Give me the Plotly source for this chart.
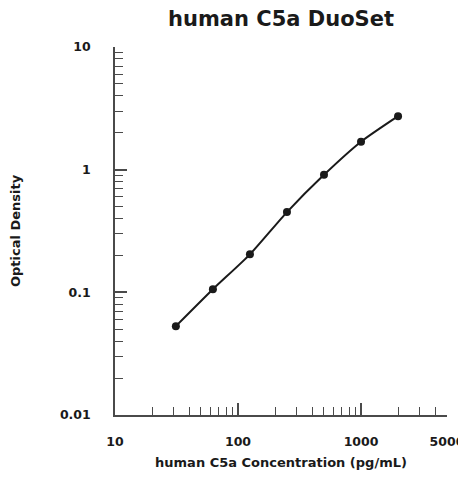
import plotly.graph_objects as go

concentration = [31.25, 62.5, 125, 250, 500, 1000, 2000]
optical_density = [0.053, 0.106, 0.204, 0.451, 0.908, 1.69, 2.73]

x_tick_vals = [10, 100, 1000, 5000]
x_tick_text = ["10", "100", "1000", "5000"]
y_tick_vals = [0.01, 0.1, 1, 10]
y_tick_text = ["0.01", "0.1", "1", "10"]

FONT = "DejaVu Sans, Liberation Sans, sans-serif"
AX = "#4a4a4a"
TXT = "#1a1a1a"

fig = go.Figure()
fig.add_trace(go.Scatter(
    x=concentration, y=optical_density, mode="lines+markers",
    line=dict(color=TXT, width=2, shape="spline", smoothing=0.6),
    marker=dict(color=TXT, size=8),
    showlegend=False,
))

# page body has an 8px default margin, so the figure is sized to fit the window
fig.update_layout(
    width=458, height=462,
    margin=dict(l=107, r=19, t=39, b=55, autoexpand=False),
    paper_bgcolor="white", plot_bgcolor="white",
    title=dict(text="<b>human C5a DuoSet</b>", x=0.5, xref="paper", xanchor="center",
               y=0.977, yref="container", yanchor="middle",
               font=dict(family=FONT, size=21, color=TXT)),
    font=dict(family=FONT, color=TXT),
)

fig.update_xaxes(
    type="log", range=[1, 3.69898], showgrid=False, zeroline=False, automargin=False,
    showline=True, linecolor=AX, linewidth=1.5,
    tickmode="array", tickvals=x_tick_vals, ticktext=x_tick_text,
    ticks="inside", ticklen=12, tickwidth=1.5, tickcolor=AX,
    tickfont=dict(family=FONT, size=12.5, color=TXT, weight="bold"),
    ticklabelstandoff=14, ticklabeloverflow="allow",
    minor=dict(ticks="inside", ticklen=8, tickwidth=1.2, tickcolor=AX, dtick="D1", showgrid=False),
    title=dict(text="<b>human C5a Concentration (pg/mL)</b>", standoff=14,
               font=dict(family=FONT, size=13, color=TXT)),
)
fig.update_yaxes(
    type="log", range=[-2, 1], showgrid=False, zeroline=False, automargin=False,
    showline=True, linecolor=AX, linewidth=1.5,
    tickmode="array", tickvals=y_tick_vals, ticktext=y_tick_text,
    ticks="inside", ticklen=12, tickwidth=1.5, tickcolor=AX,
    tickfont=dict(family=FONT, size=12.5, color=TXT, weight="bold"),
    ticklabelstandoff=20, ticklabeloverflow="allow",
    minor=dict(ticks="inside", ticklen=8, tickwidth=1.2, tickcolor=AX, dtick="D1", showgrid=False),
    title=dict(text="<b>Optical Density</b>", standoff=37,
               font=dict(family=FONT, size=13, color=TXT)),
)

fig.write_html("out.html")
